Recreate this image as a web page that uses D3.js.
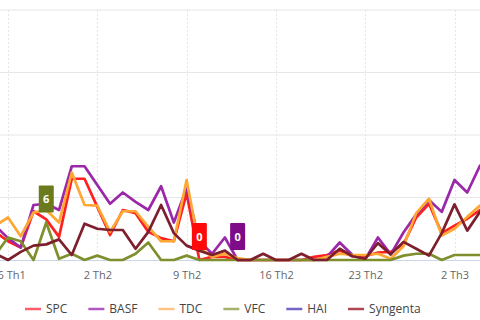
<!DOCTYPE html>
<html>
<head>
<meta charset="utf-8">
<script src="https://cdn.jsdelivr.net/npm/d3@7"></script>
<style>
  html, body { margin: 0; padding: 0; background: #fff; overflow: hidden; }
  svg { display: block; font-family: "Open Sans", "Noto Sans", sans-serif; }
</style>
</head>
<body>
<svg id="chart" width="480" height="320"></svg>
<script>
// ---------- data ----------
const dates = [
  "2023-01-25","2023-01-26","2023-01-27","2023-01-28","2023-01-29","2023-01-30","2023-01-31",
  "2023-02-01","2023-02-02","2023-02-03","2023-02-04","2023-02-05","2023-02-06","2023-02-07",
  "2023-02-08","2023-02-09","2023-02-10","2023-02-11","2023-02-12","2023-02-13","2023-02-14",
  "2023-02-15","2023-02-16","2023-02-17","2023-02-18","2023-02-19","2023-02-20","2023-02-21",
  "2023-02-22","2023-02-23","2023-02-24","2023-02-25","2023-02-26","2023-02-27","2023-02-28",
  "2023-03-01","2023-03-02","2023-03-03","2023-03-04"
];
const seriesNames = ["SPC", "BASF", "TDC", "VFC", "HAI", "Syngenta"];
const SPC      = [4.5,3,2,7.8,6.5,3.7,13,13,8.5,4,8,7.5,4.5,3.5,3,10.7,0,0.5,0.5,0,0,0,0,0,0,0.5,0.8,1.5,0.6,0.6,1.2,1.3,2.5,6.8,9,4.3,5.5,6.6,8];
const BASF     = [5.5,3.5,2,8.8,9,8,15,15,12,9,10.8,9.3,8,11.8,6,11.5,3,1,3.6,0,0,0,0,0,0,0,0.5,2.8,0.8,0.1,3.6,0.9,4.4,7.3,9.6,7.7,12.8,10.8,15.1];
const TDC      = [5.5,6.8,3.8,7.6,8,6,14,8.8,8.7,4.5,7.8,7.8,5.3,3,3,12.8,2,0.5,1,0.3,0,0,0,0,0,0,0.5,1,0.8,0.8,1,0.2,2.2,7.5,9.8,3.9,5,6.9,8.7];
const VFC      = [0.8,3.6,3,0,6,0.2,1,0,0.7,0,0,1,2.8,0,0,0.7,0,0,0,0,0,0,0,0,0,0,0,0,0,0,0,0,0.7,1,1,0,0.8,0.8,0.8];
const HAI      = [];   // no points visible in this window (legend entry only)
const Syngenta = [1,0,1.3,2.3,2.5,3.3,0.8,5.8,5,4.8,4.8,1.8,4.5,8.8,4.3,2.3,1.5,0.8,1.5,0,0,1,0,0,1,0,0,1.8,0.6,0.2,2.7,0.9,2.9,1.8,0.7,4.3,8.9,4.7,7.7];
const tickDates  = ["2023-01-26","2023-02-02","2023-02-09","2023-02-16","2023-02-23","2023-03-02"];
const tickLabels = ["26 Th1","2 Th2","9 Th2","16 Th2","23 Th2","2 Th3"];
const yTicks = [0, 10, 20, 30, 40];
// data labels shown on particular points: [series, date]
const labelSeries = ["VFC", "SPC", "BASF"];
const labelDates  = ["2023-01-29", "2023-02-10", "2023-02-13"];

// ---------- styles ----------
const lineColors  = {SPC:"#ff2020", BASF:"#9a28a8", TDC:"#ffa733", VFC:"#7f8f2e", HAI:"#5a3fb0", Syngenta:"#7d1f2d"};
const legendColors = {SPC:"#ff5c6c", BASF:"#b257c2", TDC:"#ffc483", VFC:"#a6b26c", HAI:"#7464c4", Syngenta:"#b04552"};
const boxColors   = {SPC:"#ff0a0a", BASF:"#7e0c88", VFC:"#6b7a1c"};

const valuesByName = {SPC, BASF, TDC, VFC, HAI, Syngenta};
const parse = d3.timeParse("%Y-%m-%d");
const dateObjs = dates.map(parse);

const svg = d3.select("#chart");
const plotTop = 10, plotBottom = 260;

const x = d3.scaleTime()
  .domain([parse(tickDates[0]), parse(tickDates[tickDates.length - 1])])
  .range([8, 454.5]);
const y = d3.scaleLinear().domain([0, 40]).range([plotBottom, plotTop]);

// horizontal grid
svg.append("g").selectAll("line").data(yTicks.filter(v => v > 0)).join("line")
  .attr("x1", -20).attr("x2", 500)
  .attr("y1", d => y(d)).attr("y2", d => y(d))
  .attr("stroke", "#e6e6e6").attr("stroke-width", 1);

// vertical dashed grid
svg.append("g").selectAll("line").data(tickDates.map(parse)).join("line")
  .attr("x1", d => Math.round(x(d)) + 0.5).attr("x2", d => Math.round(x(d)) + 0.5)
  .attr("y1", plotTop).attr("y2", plotBottom)
  .attr("stroke", "#e6e6e6").attr("stroke-width", 1).attr("stroke-dasharray", "2,2");

// x axis
const xAxis = d3.axisBottom(x)
  .tickValues(tickDates.map(parse))
  .tickFormat((d, i) => tickLabels[i])
  .tickSize(0).tickPadding(11);
const gx = svg.append("g").attr("transform", `translate(0,${plotBottom})`).call(xAxis);
gx.select(".domain").remove();
gx.append("line").attr("x1", -20).attr("x2", 500).attr("y1", 0.5).attr("y2", 0.5)
  .attr("stroke", "#ccd6eb").attr("stroke-width", 1);
gx.selectAll("text").attr("fill", "#666").attr("font-size", 11)
  .attr("font-family", "\"Open Sans\", sans-serif");

// lines
const line = d3.line()
  .x((d, i) => x(dateObjs[i]))
  .y(d => y(d));
const gl = svg.append("g");
seriesNames.filter(n => valuesByName[n].length > 0).forEach(name => {
  gl.append("path")
    .datum(valuesByName[name])
    .attr("d", line)
    .attr("fill", "none")
    .attr("stroke", lineColors[name])
    .attr("stroke-width", 2.7)
    .attr("stroke-linejoin", "round")
    .attr("stroke-linecap", "round");
});

// data labels
const gd = svg.append("g");
labelSeries.forEach((name, k) => {
  const dt = parse(labelDates[k]);
  const idx = dateObjs.findIndex(d => +d === +dt);
  const v = valuesByName[name][idx];
  const px = x(dt), py = y(v);
  const w = 15, h = 27;
  gd.append("rect")
    .attr("x", px - w / 2).attr("y", py - 10 - h)
    .attr("width", w).attr("height", h).attr("rx", 1)
    .attr("fill", boxColors[name]);
  gd.append("text")
    .attr("x", px).attr("y", py - 10 - h / 2 + 4)
    .attr("text-anchor", "middle")
    .attr("fill", "#fff").attr("font-size", 11).attr("font-weight", "bold")
    .text(v);
});

// legend
const gLeg = svg.append("g").attr("transform", "translate(0,309)");
let cx = 25;
seriesNames.forEach(name => {
  gLeg.append("line")
    .attr("x1", cx).attr("x2", cx + 16).attr("y1", 0).attr("y2", 0)
    .attr("stroke", legendColors[name]).attr("stroke-width", 2.5);
  const t = gLeg.append("text")
    .attr("x", cx + 21).attr("y", 4)
    .attr("fill", "#444").attr("font-size", 12)
    .text(name);
  const tw = t.node().getComputedTextLength();
  cx = cx + 21 + tw + 21;
});
</script>
</body>
</html>
